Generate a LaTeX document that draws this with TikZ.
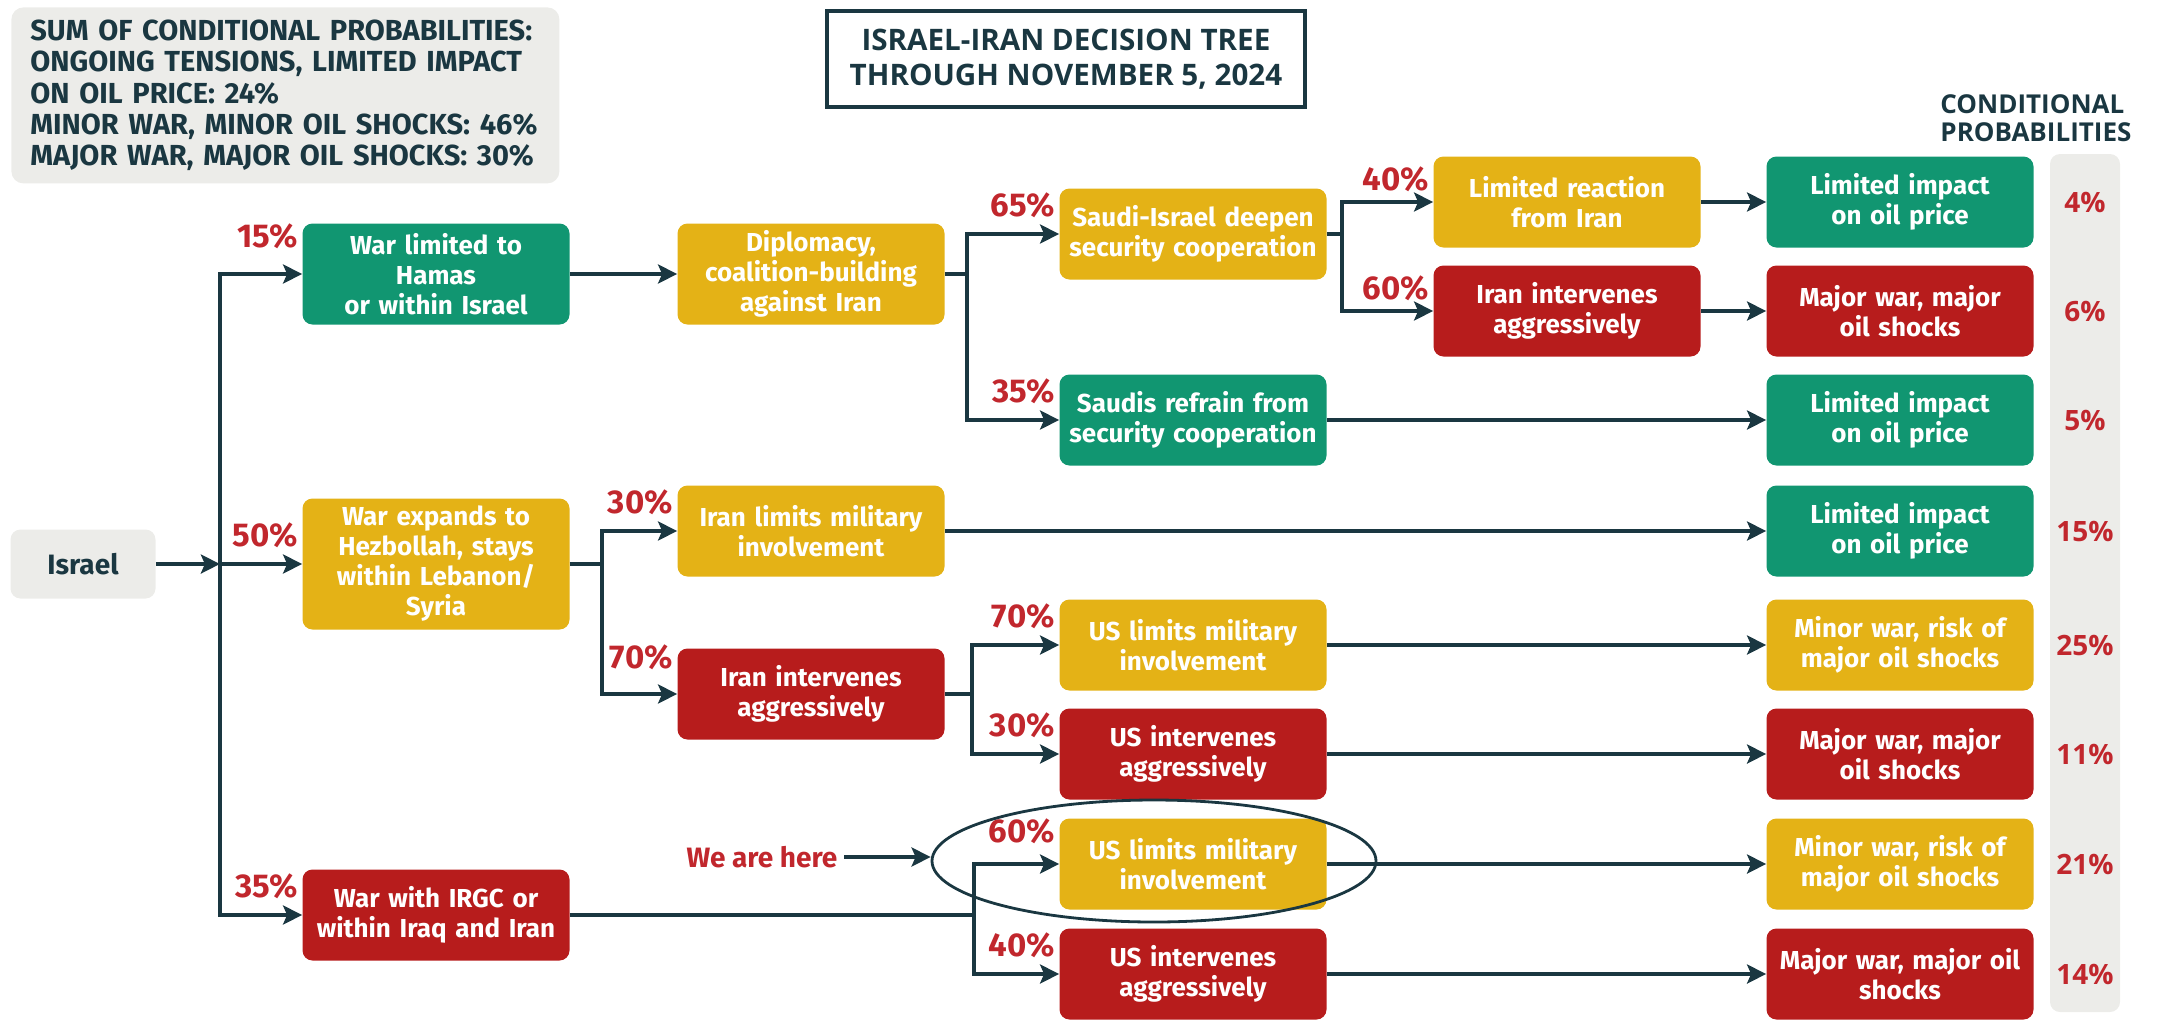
\documentclass[tikz,border=0pt]{standalone}
\usepackage{fontspec}
\setmainfont{Fira Sans}
\newfontfamily\headfont{Open Sans}
\usetikzlibrary{arrows.meta,positioning,shapes.geometric}
\tikzset{>/.tip={Stealth[length=9.5pt,width=9.5pt,inset=2pt]}}
\definecolor{ink}{HTML}{1A3741}
\definecolor{boxgreen}{HTML}{119671}
\definecolor{boxyellow}{HTML}{E4B216}
\definecolor{boxred}{HTML}{B71C1C}
\definecolor{pctred}{HTML}{C1272D}
\definecolor{panel}{HTML}{ECECE9}
\tikzset{
  box/.style={rounded corners=5pt,text=white,align=center,text width=130pt,
    minimum width=133.5pt,minimum height=45.5pt,inner sep=1.5pt,
    font=\bfseries\fontsize{13}{15}\selectfont},
  gbox/.style={box,fill=boxgreen},
  ybox/.style={box,fill=boxyellow},
  rbox/.style={box,fill=boxred},
  pct/.style={text=pctred,inner sep=0pt,font=\bfseries\fontsize{16.5}{17}\selectfont},
  share/.style={text=pctred,font=\headfont\bfseries\fontsize{14}{15}\selectfont},
  link/.style={draw=ink,line width=2.3pt,->},
}

\begin{document}
\begin{tikzpicture}[x=0.5pt,y=-0.5pt]
  \useasboundingbox (0,0) rectangle (2158,1019);

  % summary and title
  \node[fill=panel,rounded corners=6pt,anchor=north west,minimum width=271pt,minimum height=88pt,
    inner xsep=9.5pt,text width=255pt,align=left,text=ink,
    font=\bfseries\fontsize{14.5}{15.6}\selectfont](sum) at (11,7)
    {SUM OF CONDITIONAL PROBABILITIES:\\ONGOING TENSIONS, LIMITED IMPACT\\ON OIL PRICE: 24\%\\
     MINOR WAR, MINOR OIL SHOCKS: 46\%\\MAJOR WAR, MAJOR OIL SHOCKS: 30\%};
  \node[draw=ink,line width=1.6pt,minimum width=239pt,minimum height=48pt,align=center,text=ink,
    font=\headfont\bfseries\fontsize{14.8}{17.5}\selectfont](title) at (1066,59)
    {ISRAEL-IRAN DECISION TREE\\THROUGH NOVEMBER 5, 2024};
  \node[anchor=north west,align=left,inner sep=0pt,text=ink,
    font=\headfont\bfseries\fontsize{13}{14}\selectfont](head) at (1940,94)
    {CONDITIONAL\\PROBABILITIES};
  \node[fill=panel,rounded corners=5pt,minimum width=35pt,minimum height=429pt](pcol) at (2085,583){};

  % tree
  \node[fill=panel,rounded corners=5pt,minimum width=72.5pt,minimum height=34.5pt,text=ink,
    font=\bfseries\fontsize{14}{15}\selectfont](Isr) at (83,564){Israel};
  \node[gbox,minimum height=50.5pt](Ham) at (436,274){War limited to\\Hamas\\or within Israel};
  \node[ybox,minimum height=65.5pt](Hez) at (436,564){War expands to\\Hezbollah, stays\\within Lebanon/\\Syria};
  \node[rbox](Irgc) at (436,915){War with IRGC or\\within Iraq and Iran};

  \node[ybox,minimum height=50.5pt](Dip) at (811,274){Diplomacy,\\coalition-building\\against Iran};
  \node[ybox](IranLim) at (811,531){Iran limits military\\involvement};
  \node[rbox](IranIntB) at (811,694){Iran intervenes\\aggressively};

  \node[ybox](SaudiIsr) at (1193,234){Saudi-Israel deepen\\security cooperation};
  \node[gbox](SaudiNo) at (1193,420){Saudis refrain from\\security cooperation};
  \node[ybox](UsLimA) at (1193,645){US limits military\\involvement};
  \node[rbox](UsIntA) at (1193,754){US intervenes\\aggressively};
  \node[ybox](UsLimB) at (1193,864){US limits military\\involvement};
  \node[rbox](UsIntB) at (1193,974){US intervenes\\aggressively};

  \node[ybox](LimReact) at (1567,202){Limited reaction\\from Iran};
  \node[rbox](IranIntA) at (1567,311){Iran intervenes\\aggressively};

  % outcomes
  \node[gbox](O1) at (1900,202){Limited impact\\on oil price};
  \node[rbox](O2) at (1900,311){Major war, major\\oil shocks};
  \node[gbox](O3) at (1900,420){Limited impact\\on oil price};
  \node[gbox](O4) at (1900,531){Limited impact\\on oil price};
  \node[ybox](O5) at (1900,645){Minor war, risk of\\major oil shocks};
  \node[rbox](O6) at (1900,754){Major war, major\\oil shocks};
  \node[ybox](O7) at (1900,864){Minor war, risk of\\major oil shocks};
  \node[rbox](O8) at (1900,974){Major war, major oil\\shocks};

  \node[share] at (pcol |- O1){4\%};
  \node[share] at (pcol |- O2){6\%};
  \node[share] at (pcol |- O3){5\%};
  \node[share] at (pcol |- O4){15\%};
  \node[share] at (pcol |- O5){25\%};
  \node[share] at (pcol |- O6){11\%};
  \node[share] at (pcol |- O7){21\%};
  \node[share] at (pcol |- O8){14\%};

  % connectors
  \coordinate[right=32pt of Isr.east](trunk);
  \draw[link] (Isr.east) -- (trunk);
  \draw[link] (trunk) |- (Ham.west);
  \draw[link] (trunk) -- (Hez.west);
  \draw[link] (trunk) |- (Irgc.west);

  \draw[link] (Ham) -- (Dip);
  \draw[link] (Dip.east) -- ++(11pt,0) |- (SaudiIsr.west);
  \draw[link] (Dip.east) -- ++(11pt,0) |- (SaudiNo.west);
  \draw[link] (SaudiIsr.east) -- ++(7.5pt,0) |- (LimReact.west);
  \draw[link] (SaudiIsr.east) -- ++(7.5pt,0) |- (IranIntA.west);
  \draw[link] (LimReact) -- (O1);
  \draw[link] (IranIntA) -- (O2);
  \draw[link] (SaudiNo) -- (O3);

  \draw[link] (Hez.east) -- ++(16pt,0) |- (IranLim.west);
  \draw[link] (Hez.east) -- ++(16pt,0) |- (IranIntB.west);
  \draw[link] (IranLim) -- (O4);
  \draw[link] (IranIntB.east) -- ++(13.5pt,0) |- (UsLimA.west);
  \draw[link] (IranIntB.east) -- ++(13.5pt,0) |- (UsIntA.west);
  \draw[link] (UsLimA) -- (O5);
  \draw[link] (UsIntA) -- (O6);

  \draw[link] (Irgc.east) -- ++(202pt,0) |- (UsLimB.west);
  \draw[link] (Irgc.east) -- ++(202pt,0) |- (UsIntB.west);
  \draw[link] (UsLimB) -- (O7);
  \draw[link] (UsIntB) -- (O8);

  % branch probabilities
  \node[pct,above left=12.5pt and 2pt of Ham.west]{15\%};
  \node[pct,above left=8pt and 2pt of Hez.west]{50\%};
  \node[pct,above left=8pt and 2pt of Irgc.west]{35\%};
  \node[pct,above left=8pt and 2pt of SaudiIsr.west]{65\%};
  \node[pct,above left=8pt and 2pt of SaudiNo.west]{35\%};
  \node[pct,above left=5pt and 2pt of LimReact.west]{40\%};
  \node[pct,above left=5pt and 2pt of IranIntA.west]{60\%};
  \node[pct,above left=8pt and 2pt of IranLim.west]{30\%};
  \node[pct,above left=12pt and 2pt of IranIntB.west]{70\%};
  \node[pct,above left=8pt and 2pt of UsLimA.west]{70\%};
  \node[pct,above left=8pt and 2pt of UsIntA.west]{30\%};
  \node[pct,above left=10pt and 2pt of UsLimB.west]{60\%};
  \node[pct,above left=8pt and 2pt of UsIntB.west]{40\%};

  % where we stand
  \node[ellipse,draw=ink,line width=1.4pt,minimum width=222pt,minimum height=61pt](circ) at (1154,861){};
  \node[text=pctred,font=\bfseries\fontsize{14}{15}\selectfont](here) at (762,857){We are here};
  \draw[link] (here) -- (here -| circ.west);
\end{tikzpicture}
\end{document}
